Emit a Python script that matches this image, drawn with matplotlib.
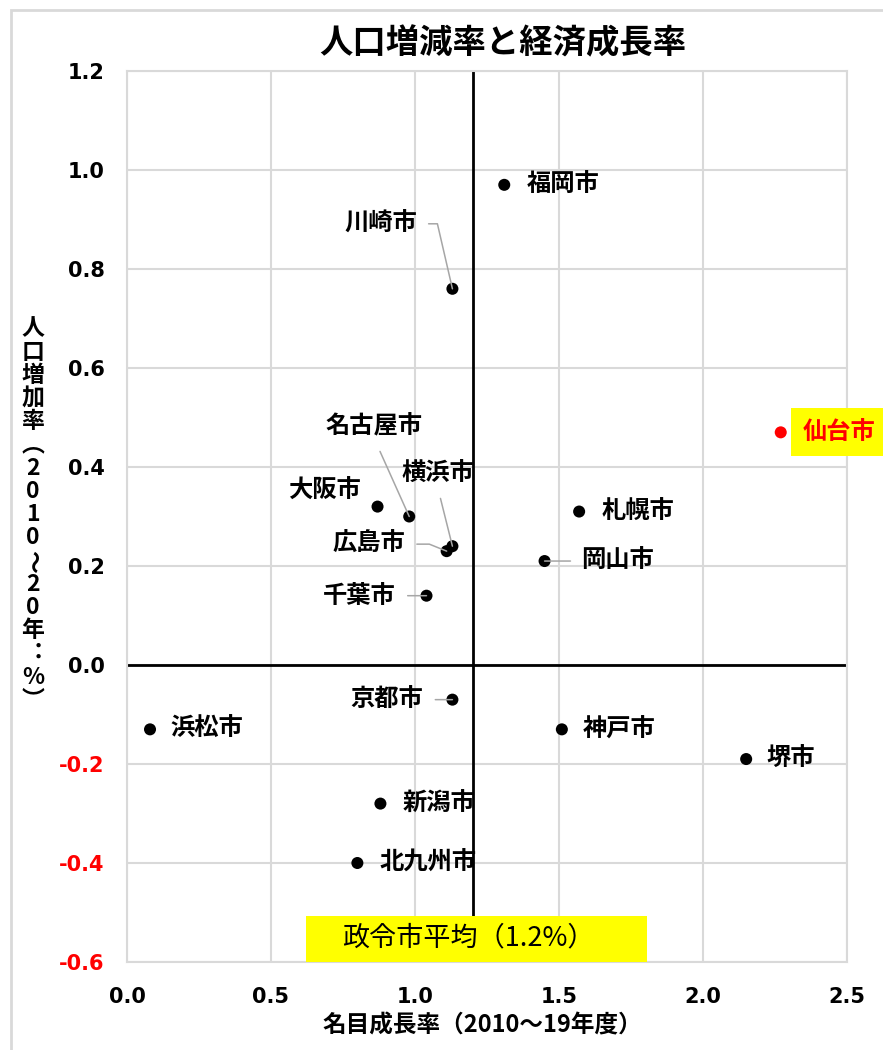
import matplotlib.pyplot as plt
from matplotlib.patches import Rectangle
from matplotlib.ticker import FormatStrFormatter, MultipleLocator

plt.rcParams['font.family'] = ['Noto Sans CJK JP', 'DejaVu Sans']

# nominal growth (2010-19, %) and population change (2010-20, %) by city
cities = ['福岡市', '川崎市', '仙台市', '札幌市', '大阪市', '名古屋市', '横浜市', '広島市',
          '岡山市', '千葉市', '京都市', '浜松市', '神戸市', '堺市', '新潟市', '北九州市']
growth = [1.31, 1.13, 2.27, 1.57, 0.87, 0.98, 1.13, 1.11,
          1.45, 1.04, 1.13, 0.08, 1.51, 2.15, 0.88, 0.80]
pop_change = [0.97, 0.76, 0.47, 0.31, 0.32, 0.30, 0.24, 0.23,
              0.21, 0.14, -0.07, -0.13, -0.13, -0.19, -0.28, -0.40]
avg_growth = 1.2
highlight = '仙台市'

# label offsets in pixels from each point
label_dx = [22, -72, 22, 22, -53, -35, -15, -78, 37, -67, -66, 20, 21, 20, 22, 22]
label_dy = [0, 65, 0, 0, 16, 90, 72, 7, 0, 0, 0, 0, 0, 0, 0, 0]
label_ha = ['left', 'center', 'left', 'left', 'center', 'center', 'center', 'center',
            'left', 'center', 'center', 'left', 'left', 'left', 'left', 'left']

# leader lines: (relpos on label, gap in points, connection style)
leaders = {
    '川崎市': ((1, 0.5), 6.5, 'angle,angleA=0,angleB=103,rad=0'),
    '名古屋市': ((0.5, 0), 8, 'arc3,rad=0'),
    '横浜市': ((0.5, 0), 7, 'arc3,rad=0'),
    '広島市': ((1, 0.5), 6.5, 'angle,angleA=0,angleB=158,rad=0'),
    '岡山市': ((0, 0.5), 6, 'arc3,rad=0'),
    '千葉市': ((1, 0.5), 6.5, 'arc3,rad=0'),
    '京都市': ((1, 0.5), 7, 'arc3,rad=0'),
}

ylabel_chars = ['人', '口', '増', '加', '率', '︵', '2', '0', '1', '0', '～',
                '2', '0', '年', '︓', '%', '︶']

grid_color = '#d9d9d9'

fig = plt.figure(figsize=(8.83, 10.5), dpi=100)
fig.patches.append(Rectangle((11 / 883, -0.1), 1.2, (1040 / 1050) + 0.1,
                             transform=fig.transFigure, fill=False,
                             edgecolor=grid_color, lw=2))
ax = fig.add_axes([0.1438, 0.0838, 0.8154, 0.8486])

colors = ['red' if c == highlight else 'black' for c in cities]
ax.scatter(growth, pop_change, s=75, c=colors, zorder=4, linewidths=0)

ax.axvline(avg_growth, color='black', lw=2, zorder=2)
ax.axhline(0, color='black', lw=2, zorder=2)

for i, city in enumerate(cities):
    kw = dict(textcoords='offset pixels', ha=label_ha[i], va='center',
              fontsize=17.5, fontweight='bold', zorder=5)
    if city == highlight:
        kw.update(color='red',
                  bbox=dict(boxstyle='square,pad=0.5', facecolor='#ffff00', edgecolor='none'))
    if city in leaders:
        relpos, gap, style = leaders[city]
        kw['arrowprops'] = dict(arrowstyle='-', color='#a6a6a6', lw=1.1, relpos=relpos,
                                shrinkA=gap, shrinkB=0, connectionstyle=style)
    ax.annotate(city, (growth[i], pop_change[i]),
                xytext=(label_dx[i], label_dy[i]), **kw)

ax.set_xlim(0, 2.5)
ax.set_ylim(-0.6, 1.2)
ax.xaxis.set_major_locator(MultipleLocator(0.5))
ax.yaxis.set_major_locator(MultipleLocator(0.2))
ax.xaxis.set_major_formatter(FormatStrFormatter('%.1f'))
ax.yaxis.set_major_formatter(FormatStrFormatter('%.1f'))
ax.grid(color=grid_color, lw=1.5)
ax.set_axisbelow(True)
for sp in ax.spines.values():
    sp.set_color(grid_color)
    sp.set_linewidth(1.5)
ax.tick_params(axis='both', length=0, labelsize=15)
ax.tick_params(axis='x', pad=18)
ax.tick_params(axis='y', pad=16)
fig.canvas.draw()
for lab in ax.get_xticklabels() + ax.get_yticklabels():
    lab.set_fontfamily('DejaVu Sans')
    lab.set_fontweight('bold')
for val, lab in zip(ax.get_yticks(), ax.get_yticklabels()):
    if val < -1e-9:
        lab.set_color('red')

# average growth box
ax.add_patch(Rectangle((0.249, 0.0), 0.473, 0.052, transform=ax.transAxes,
                       facecolor='#ffff00', edgecolor='none', zorder=3))
ax.text(0.4736, 0.027, f'政令市平均（{avg_growth}%）', transform=ax.transAxes,
        ha='center', va='center', fontsize=19.5, zorder=4)

fig.text(0.5697, 0.958, '人口増減率と経済成長率', ha='center', va='center',
         fontsize=24, fontweight='bold')
fig.text(482 / 883, 1 - 1025 / 1050, '名目成長率（2010～19年度）', ha='center', va='center',
         fontsize=17, fontweight='bold')

# vertical y-axis title, one character per line
y0, step = 1 - 329 / 1050, 23.2 / 1050
for i, ch in enumerate(ylabel_chars):
    rot = -90 if ch == '～' else 0
    fig.text(33 / 883, y0 - i * step, ch, ha='center', va='center',
             fontsize=16.5, fontweight='bold', rotation=rot)

fig.savefig('out.png', dpi=100)
